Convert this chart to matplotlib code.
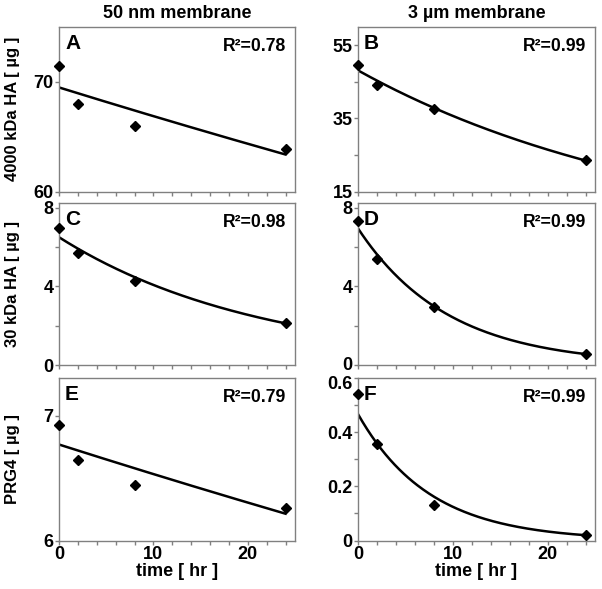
import numpy as np
import matplotlib
matplotlib.use("Agg")
import matplotlib.pyplot as plt
import matplotlib.transforms as mtransforms

plt.rcParams['font.family'] = ['Liberation Sans', 'DejaVu Sans']
plt.rcParams['font.weight'] = 'bold'

# ---- data ----
time_hr = [0, 2, 8, 24]
ha4000_50nm = [71.4, 68.0, 65.96, 63.9]
ha4000_3um = [49.7, 44.1, 37.5, 23.6]
ha30_50nm = [6.97, 5.69, 4.27, 2.16]
ha30_3um = [7.31, 5.40, 2.95, 0.56]
prg4_50nm = [6.928, 6.648, 6.446, 6.262]
prg4_3um = [0.541, 0.356, 0.131, 0.021]

column_titles = ["50 nm membrane", "3 \u00b5m membrane"]
row_labels = ["4000 kDa HA [ \u00b5g ]", "30 kDa HA [ \u00b5g ]", "PRG4 [ \u00b5g ]"]
panel_letters = ["A", "B", "C", "D", "E", "F"]
r2_texts = ["R\u00b2=0.78", "R\u00b2=0.99", "R\u00b2=0.98", "R\u00b2=0.99", "R\u00b2=0.79", "R\u00b2=0.99"]
xlabel = "time [ hr ]"

series = [ha4000_50nm, ha4000_3um, ha30_50nm, ha30_3um, prg4_50nm, prg4_3um]
ylims = [(60, 75), (15, 60), (0, 8.25), (0, 8.25), (6, 7.3), (0, 0.6)]
ymajor = [[60, 70], [15, 25, 35, 45, 55], [0, 2, 4, 6, 8], [0, 2, 4, 6, 8], [6, 7],
          [0, 0.1, 0.2, 0.3, 0.4, 0.5, 0.6]]
ylabels_shown = [["60", "70"], ["15", "", "35", "", "55"], ["0", "", "4", "", "8"],
                 ["0", "", "4", "", "8"], ["6", "7"], ["0", "", "0.2", "", "0.4", "", "0.6"]]

W, H = 602, 589
fig = plt.figure(figsize=(W / 100, H / 100), dpi=100)

cols = [(59, 295), (358, 595)]
rows = [(27, 191.5), (203, 365), (378, 540.5)]
spine_col = '#808080'

axes = []
for i in range(6):
    r, c = divmod(i, 2)
    x0, x1 = cols[c]
    y0, y1 = rows[r]
    ax = fig.add_axes([x0 / W, 1 - y1 / H, (x1 - x0) / W, (y1 - y0) / H])
    axes.append(ax)
    y = np.array(series[i])
    t = np.array(time_hr, dtype=float)
    # exponential trendline (least squares on log values)
    k, b = np.polyfit(t, np.log(y), 1)
    tt = np.linspace(t.min(), t.max(), 200)
    ax.plot(tt, np.exp(b + k * tt), color='black', lw=1.8, zorder=2)
    ax.plot(t, y, linestyle='none', marker='D', ms=5.6, color='black', clip_on=False, zorder=3)
    ax.set_xlim(0, 25)
    ax.set_ylim(*ylims[i])
    ax.set_xticks(np.arange(0, 25, 2))
    if r == 2:
        ax.set_xticklabels([str(v) if v % 10 == 0 else "" for v in range(0, 25, 2)])
    else:
        ax.set_xticklabels([])
    ax.set_yticks(ymajor[i])
    ax.set_yticklabels(ylabels_shown[i])
    for s in ax.spines.values():
        s.set_color(spine_col)
        s.set_linewidth(1.0)
    ax.tick_params(axis='both', direction='out', length=3, width=1, color=spine_col,
                   labelsize=13, pad=1)
    for lab in ax.get_xticklabels() + ax.get_yticklabels():
        lab.set_fontweight('bold')
    ax.text(6 / (x1 - x0), 1 - 7 / (y1 - y0), panel_letters[i], transform=ax.transAxes,
            ha='left', va='top', fontsize=15, fontweight='bold')
    ax.text(1 - 9 / (x1 - x0), 1 - 11 / (y1 - y0), r2_texts[i], transform=ax.transAxes,
            ha='right', va='top', fontsize=12.7, fontweight='bold')
    if r == 2:
        ax.set_xlabel(xlabel, fontsize=13, fontweight='bold', labelpad=0)
    if c == 0:
        fig.text(13 / W, 1 - ((y0 + y1) / 2) / H, row_labels[r], rotation=90,
                 ha='center', va='center', fontsize=12, fontweight='bold')
    if r == 0:
        fig.text(((x0 + x1) / 2) / W, 1 - 13 / H, column_titles[c], ha='center', va='center',
                 fontsize=13, fontweight='bold')

# small nudges of crowded tick labels, as in the reference
def nudge(ax, idx, dy_px):
    lab = ax.yaxis.get_major_ticks()[idx].label1
    lab.set_transform(lab.get_transform() + mtransforms.Affine2D().translate(0, dy_px))

nudge(axes[3], 0, 2)    # D "0" slightly up
nudge(axes[5], -1, -5)  # F "0.6" slightly down

fig.savefig("out.png", dpi=100)
